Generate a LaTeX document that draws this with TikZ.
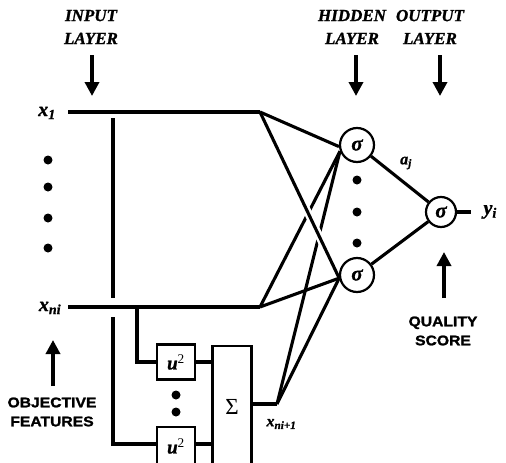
\documentclass[tikz,border=0pt]{standalone}
\usepackage{fontspec}
\setmainfont{Liberation Serif}[BoldFeatures={FakeBold=1.2}, BoldItalicFeatures={FakeBold=1.2}]
\newfontfamily\notefont[FakeStretch=1.12, FakeBold=1.6]{Liberation Sans}
\usetikzlibrary{positioning, arrows.meta}

\begin{document}
\begin{tikzpicture}[x=1pt, y=-1pt,
        wire/.style={line width=3.1pt},
        neuron/.style={draw, circle, line width=2.2pt, minimum size=34pt, inner sep=0pt, font=\fontsize{21}{21}\selectfont\bfseries\itshape},
        sqbox/.style={draw, line width=2.2pt, minimum width=38pt, minimum height=35pt, inner sep=0pt, font=\fontsize{19}{19}\selectfont},
        layer/.style={align=center, font=\fontsize{17}{23}\selectfont\bfseries\itshape},
        notelabel/.style={align=center, font=\fontsize{14}{19}\selectfont\notefont\bfseries},
        var/.style={font=\fontsize{20}{20}\selectfont\bfseries\itshape},
        smallvar/.style={font=\fontsize{16}{16}\selectfont\bfseries\itshape},
        blob/.style={circle, fill, inner sep=0pt, minimum size=9pt},
        pointer/.style={-{Triangle[length=14pt, width=14pt]}, line width=3.4pt}
      ]
        \useasboundingbox (0,0) rectangle (506,463);
        \node[layer] (inlab)  at (91,27)  {INPUT\\LAYER};
        \node[layer] (hidlab) at (352,27) {HIDDEN\\LAYER};
        \node[layer] (outlab) at (430,27) {OUTPUT\\LAYER};
        \coordinate (inarrow)  at (92,55);  \coordinate (intip)  at (92,96);
        \coordinate (hidarrow) at (356,55); \coordinate (hidtip) at (356,96);
        \coordinate (outarrow) at (440,55); \coordinate (outtip) at (440,96);
        \draw[pointer] (inarrow) -- (intip);
        \draw[pointer] (hidarrow) -- (hidtip);
        \draw[pointer] (outarrow) -- (outtip);
        % inputs
        \node[var] (x1) at (47,113) {x\textsubscript{1}};
        \node[var] (xn) at (50,308) {x\textsubscript{ni}};
        \foreach \y in {160,187,218,248} \node[blob] at (48,\y) {};
        \coordinate (in1) at (68,112);
        \coordinate (inn) at (68,307);
        \coordinate (j1) at (260,112);
        \coordinate (jn) at (260,307);
        \draw[wire] (in1) -- (j1);
        \draw[wire] (inn) -- (jn);
        % neurons
        \node[neuron] (h1)  at (357,145) {σ};
        \node[neuron] (h2)  at (357,275) {σ};
        \node[neuron, minimum size=30pt] (out) at (441,212) {σ};
        \foreach \y in {180,212,243} \node[blob] at (357,\y) {};
        % squares and sum
        \node[sqbox] (sq1) at (176,362) {\textbf{\textit{u}}\textsuperscript{2}};
        \node[sqbox, minimum height=38pt] (sq2) at (176,446) {\textbf{\textit{u}}\textsuperscript{2}};
        \foreach \y in {395,412} \node[blob] at (176,\y) {};
        \node[sqbox, minimum width=39pt, minimum height=122pt, font=\fontsize{23}{23}\selectfont] (sum) at (232,407) {Σ};
        \coordinate (bus1) at (113,118);
        \coordinate (bus2) at (113,298);
        \coordinate (bus3) at (113,317);
        \coordinate (tap)  at (137,307);
        \coordinate (js)   at (277,404);
        \draw[wire] (bus1) -- (bus2);
        \draw[wire] (bus3) |- ([yshift=2pt]sq2.west);
        \draw[wire] (tap) |- (sq1);
        \draw[wire] (sq1.east) -- (sq1.east -| sum.west);
        \draw[wire] ([yshift=2pt]sq2.east) -- ([yshift=2pt]sq2.east -| sum.west);
        \draw[wire] (sum.east |- js) -- (js);
        \node[smallvar, anchor=west] (xs) at (263,424) {x\textsubscript{ni+1}};
        % weights
        \draw[wire] (j1) -- (h1.185);
        \draw[wire] (jn) -- (h1.200);
        \draw[wire] (jn) -- (h2.190);
        \draw[wire] (js) -- (h1.200);
        \draw[wire] (js) -- (h2.190);
        \draw[wire, preaction={draw=white, line width=8pt, shorten <=30pt, shorten >=30pt}] (j1) -- (h2.190);
        \draw[wire] (h1) -- (out);
        \draw[wire] (h2) -- (out);
        \node[smallvar] (aj) at (406,163) {a\textsubscript{j}};
        \coordinate (yend) at (471,212);
        \draw[wire] (out) -- (yend);
        \node[var, anchor=west] (yi) at (480,212) {y\textsubscript{i}};
        % captions
        \node[notelabel] (objlab) at (52,412) {OBJECTIVE\\FEATURES};
        \node[notelabel] (qlab)   at (443,331) {QUALITY\\SCORE};
        \coordinate (objarrow) at (53,386); \coordinate (objtip) at (53,340);
        \coordinate (qarrow)   at (444,298); \coordinate (qtip)  at (444,252);
        \draw[pointer] (objarrow) -- (objtip);
        \draw[pointer] (qarrow) -- (qtip);
      \end{tikzpicture}
\end{document}
